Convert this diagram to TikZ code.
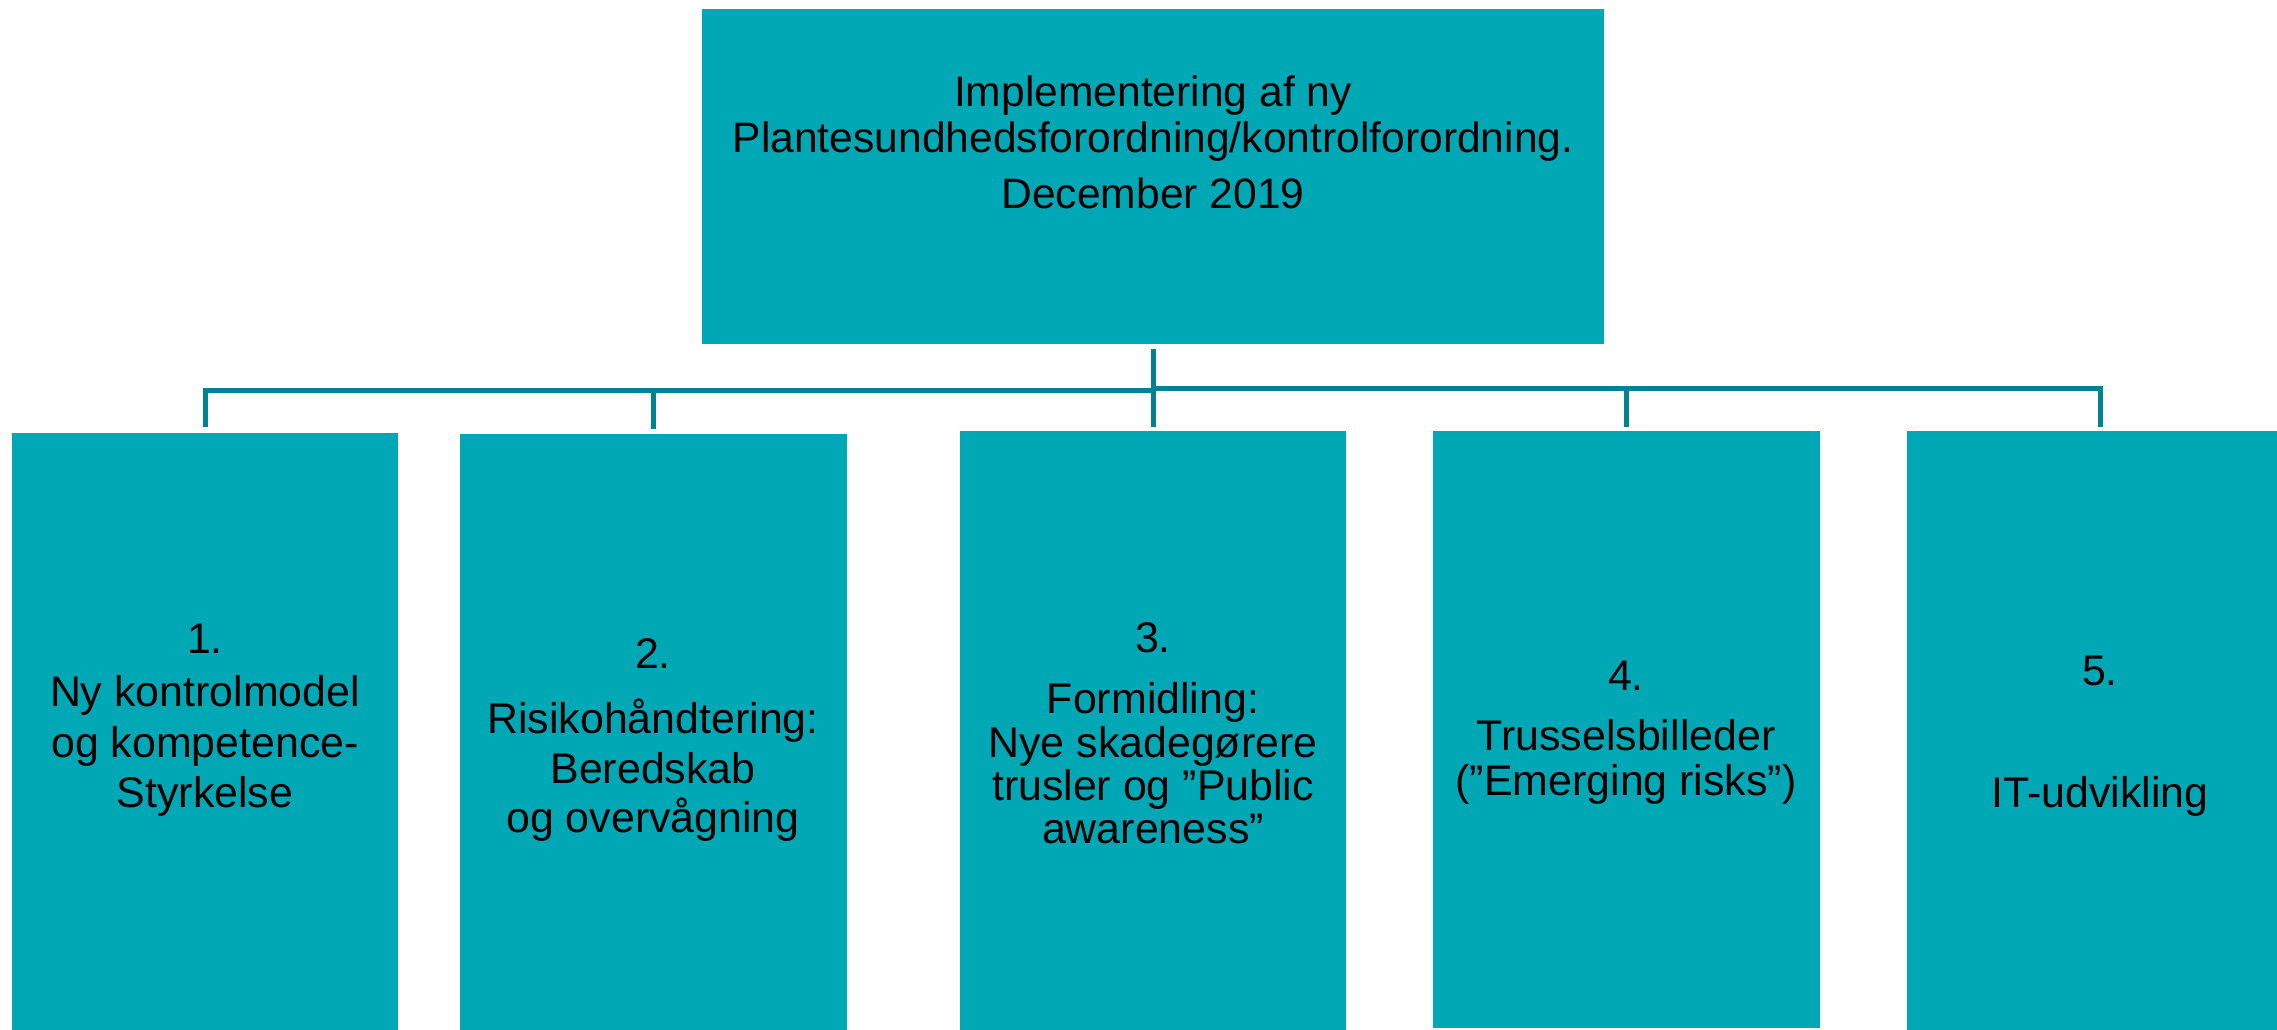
\documentclass[tikz,border=0pt]{standalone}
\usepackage{fontspec}
\setmainfont{Liberation Sans}
\definecolor{boxfill}{RGB}{0,168,181}
\definecolor{conncol}{RGB}{0,131,143}
\begin{document}
\begin{tikzpicture}[x=1pt,y=-1pt,
  box/.style={fill=boxfill, draw=none, anchor=north west, inner sep=0pt, outer sep=0pt},
  conn/.style={draw=conncol, line width=5pt},
  lbl/.style={anchor=base, inner sep=0pt, text=black, font=\fontsize{42.9}{50}\selectfont},
  tlbl/.style={anchor=base, inner sep=0pt, text=black, font=\fontsize{42.6}{50}\selectfont}]
\useasboundingbox (0,0) rectangle (2277,1030);

% boxes
\node[box, minimum width=902pt, minimum height=335pt] (top) at (702,9) {};
\node[box, minimum width=386pt, minimum height=605pt] (b1) at (12,433) {};
\node[box, minimum width=387pt, minimum height=605pt] (b2) at (460,434) {};
\node[box, minimum width=386pt, minimum height=605pt] (b3) at (960,431) {};
\node[box, minimum width=387pt, minimum height=597pt] (b4) at (1433,431) {};
\node[box, minimum width=386pt, minimum height=605pt] (b5) at (1907,431) {};

% connectors
\coordinate (busL) at (0,390);
\coordinate (busR) at (0,388);
\draw[conn] ([yshift=-5pt]top.south) -- ([yshift=4pt]b3.north);
\draw[conn] ([yshift=6pt]b1.north) -- (b1.north |- busL) -- (top.south |- busL);
\draw[conn] ([yshift=5pt]b2.north) -- (b2.north |- busL);
\draw[conn] (top.south |- busR) -- (b5.north |- busR) -- ([yshift=4pt]b5.north);
\draw[conn] ([yshift=4pt]b4.north) -- (b4.north |- busR);

% top text
\node[tlbl] (t1) at (1153,107) {Implementering af ny};
\node[tlbl] (t2) at (1153,152) {Plantesundhedsforordning/kontrolforordning.};
\node[tlbl] (t3) at (1153,208) {December 2019};

% box 1
\node[lbl] (a1) at (205,653) {1.};
\node[lbl] (a2) at (205,706) {Ny kontrolmodel};
\node[lbl] (a3) at (205,757) {og kompetence-};
\node[lbl] (a4) at (205,807) {Styrkelse};

% box 2
\node[lbl] (c1) at (653,668) {2.};
\node[lbl] (c2) at (653,733) {Risikohåndtering:};
\node[lbl] (c3) at (653,783) {Beredskab};
\node[lbl] (c4) at (653,832) {og overvågning};

% box 3
\node[lbl] (d1) at (1153,652) {3.};
\node[lbl] (d2) at (1153,713) {Formidling:};
\node[lbl] (d3) at (1153,757) {Nye skadegørere};
\node[lbl] (d4) at (1153,800) {trusler og ”Public};
\node[lbl] (d5) at (1153,843) {awareness”};

% box 4
\node[lbl] (e1) at (1626,690) {4.};
\node[lbl] (e2) at (1626,750) {Trusselsbilleder};
\node[lbl] (e3) at (1626,795) {(”Emerging risks”)};

% box 5
\node[lbl] (f1) at (2100,685) {5.};
\node[lbl] (f2) at (2100,807) {IT-udvikling};
\end{tikzpicture}
\end{document}
